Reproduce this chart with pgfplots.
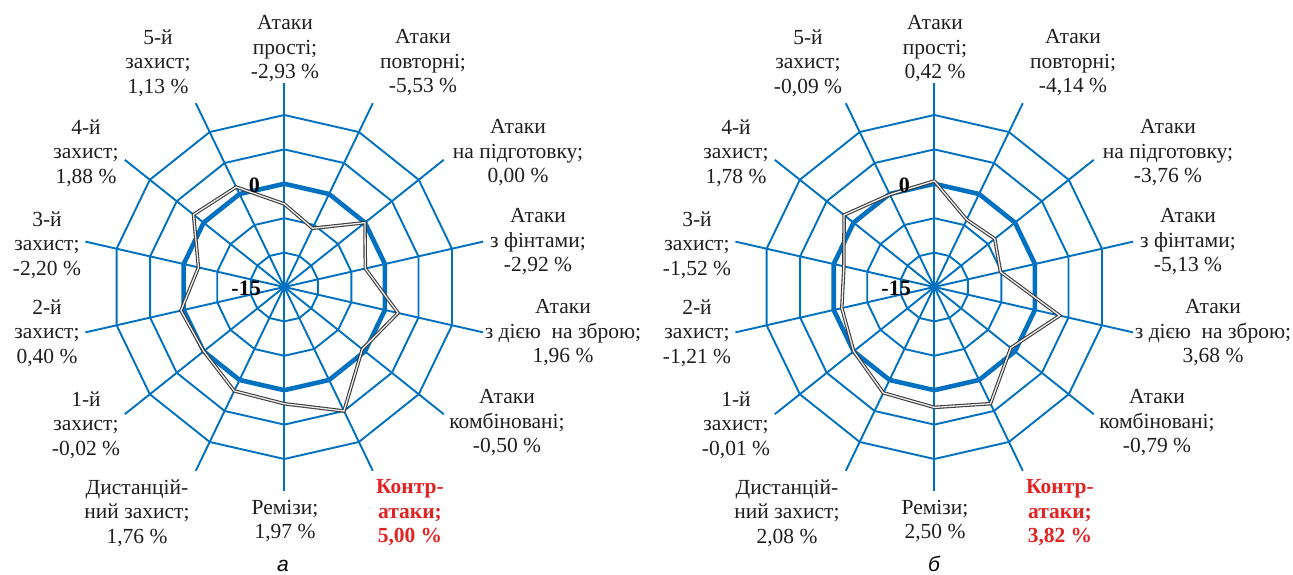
\documentclass[border=0pt]{standalone}
\usepackage{fontspec}
\setmainfont{Liberation Serif}
\setsansfont{Liberation Sans}
\usepackage{pgfplots}
\pgfplotsset{compat=1.18}
\usepackage{pgfplotstable}
\definecolor{gridblue}{RGB}{0,112,192}
\definecolor{redlab}{RGB}{225,35,35}
\definecolor{dgray}{RGB}{60,60,60}
\definecolor{txt}{RGB}{30,30,30}

% angle (deg, clockwise from top) and value in %
\pgfplotstableread{
a v
90 -2.93
64.2857 -5.53
38.5714 0.00
12.8571 -2.92
-12.8571 1.96
-38.5714 -0.50
-64.2857 5.00
-90 1.97
-115.7143 1.76
-141.4286 -0.02
-167.1429 0.40
-192.8571 -2.20
-218.5714 1.88
-244.2857 1.13
-270 -2.93
}\dataA
\pgfplotstableread{
a v
90 0.42
64.2857 -4.14
38.5714 -3.76
12.8571 -5.13
-12.8571 3.68
-38.5714 -0.79
-64.2857 3.82
-90 2.50
-115.7143 2.08
-141.4286 -0.01
-167.1429 -1.21
-192.8571 -1.52
-218.5714 1.78
-244.2857 -0.09
-270 0.42
}\dataB

\newcommand{\ringat}[2]{\addplot[gridblue, line width=#2] coordinates {(90,#1) (64.2857,#1) (38.5714,#1) (12.8571,#1) (-12.8571,#1) (-38.5714,#1) (-64.2857,#1) (-90,#1) (-115.7143,#1) (-141.4286,#1) (-167.1429,#1) (-192.8571,#1) (-218.5714,#1) (-244.2857,#1) (-270,#1)};}
\newcommand{\spokes}{\pgfplotsinvokeforeach{90,64.2857,38.5714,12.8571,-12.8571,-38.5714,-64.2857,-90,-115.7143,-141.4286,-167.1429,-192.8571,-218.5714,-244.2857}{\addplot[gridblue, line width=1.9pt] coordinates {(##1,0) (##1,29.65)};}}

\pgfplotsset{radarstyle/.style={anchor=center, hide axis, x=6.88pt, y=6.88pt,
  xmin=-30, xmax=30, ymin=-30, ymax=30, clip=false, data cs=polar}}

\newcommand{\lab}[3]{\node[font=\fontsize{21.5}{24.5}\selectfont, text=txt, align=center, inner sep=0pt] at ({#1*1pt},{(574-#2)*1pt}) {#3};}
\newcommand{\labred}[3]{\node[font=\fontsize{21.5}{24.5}\selectfont\bfseries, text=redlab, align=center, inner sep=0pt] at ({#1*1pt},{(574-#2)*1pt}) {#3};}

\begin{document}
\begin{tikzpicture}
\useasboundingbox (0,0) rectangle (1293pt,574pt);

\begin{axis}[radarstyle, at={(284.3pt,287pt)}]
\spokes
\ringat{5}{1.9pt}
\ringat{10}{1.9pt}
\ringat{15}{1.9pt}
\ringat{20}{1.9pt}
\ringat{25}{1.9pt}
\ringat{15}{4.6pt}
\addplot[dgray, line width=1.1pt, double=white!85!gray, double distance=1.3pt] table[x=a, y expr=\thisrow{v}+15] {\dataA};
\end{axis}

\begin{axis}[radarstyle, at={(934.3pt,287pt)}]
\spokes
\ringat{5}{1.9pt}
\ringat{10}{1.9pt}
\ringat{15}{1.9pt}
\ringat{20}{1.9pt}
\ringat{25}{1.9pt}
\ringat{15}{4.6pt}
\addplot[dgray, line width=1.1pt, double=white!85!gray, double distance=1.3pt] table[x=a, y expr=\thisrow{v}+15] {\dataB};
\end{axis}

% radial tick labels
\foreach \dx in {0,650}{
  \node[font=\fontsize{22}{24}\selectfont\bfseries, anchor=east, inner sep=0pt] at ({(260+\dx)*1pt},{(574-185)*1pt}) {0};
  \node[font=\fontsize{22}{24}\selectfont\bfseries, anchor=east, inner sep=0pt] at ({(261+\dx)*1pt},{(574-288)*1pt}) {-15};
}

% labels, chart a
\lab{285}{49}{Атаки\\прості;\\-2,93 \%}
\lab{423}{63}{Атаки\\повторні;\\-5,53 \%}
\lab{518}{153}{Атаки\\на підготовку;\\0,00 \%}
\lab{538}{242}{Атаки\\з фінтами;\\-2,92 \%}
\lab{563}{333}{Атаки\\з дією\ \ на зброю;\\1,96 \%}
\lab{507}{423}{Атаки\\комбіновані;\\-0,50 \%}
\labred{410}{513}{Контр-\\атаки;\\5,00 \%}
\lab{285}{521}{Ремізи;\\1,97 \%}
\lab{137}{513}{Дистанцій-\\ний захист;\\1,76 \%}
\lab{86}{425}{1-й\\захист;\\-0,02 \%}
\lab{47}{333}{2-й\\захист;\\0,40 \%}
\lab{47}{245}{3-й\\захист;\\-2,20 \%}
\lab{86}{153}{4-й\\захист;\\1,88 \%}
\lab{158}{63}{5-й\\захист;\\1,13 \%}
\node[font=\sffamily\itshape\fontsize{21}{24}\selectfont, inner sep=0pt, anchor=base] at (283pt,3pt) {а};

% labels, chart b
\begin{scope}[xshift=650pt]
\lab{285}{49}{Атаки\\прості;\\0,42 \%}
\lab{423}{63}{Атаки\\повторні;\\-4,14 \%}
\lab{518}{153}{Атаки\\на підготовку;\\-3,76 \%}
\lab{538}{242}{Атаки\\з фінтами;\\-5,13 \%}
\lab{563}{333}{Атаки\\з дією\ \ на зброю;\\3,68 \%}
\lab{507}{423}{Атаки\\комбіновані;\\-0,79 \%}
\labred{410}{513}{Контр-\\атаки;\\3,82 \%}
\lab{285}{521}{Ремізи;\\2,50 \%}
\lab{137}{513}{Дистанцій-\\ний захист;\\2,08 \%}
\lab{86}{425}{1-й\\захист;\\-0,01 \%}
\lab{47}{333}{2-й\\захист;\\-1,21 \%}
\lab{47}{245}{3-й\\захист;\\-1,52 \%}
\lab{86}{153}{4-й\\захист;\\1,78 \%}
\lab{158}{63}{5-й\\захист;\\-0,09 \%}
\node[font=\sffamily\itshape\fontsize{21}{24}\selectfont, inner sep=0pt, anchor=base] at (284pt,3pt) {б};
\end{scope}
\end{tikzpicture}
\end{document}
